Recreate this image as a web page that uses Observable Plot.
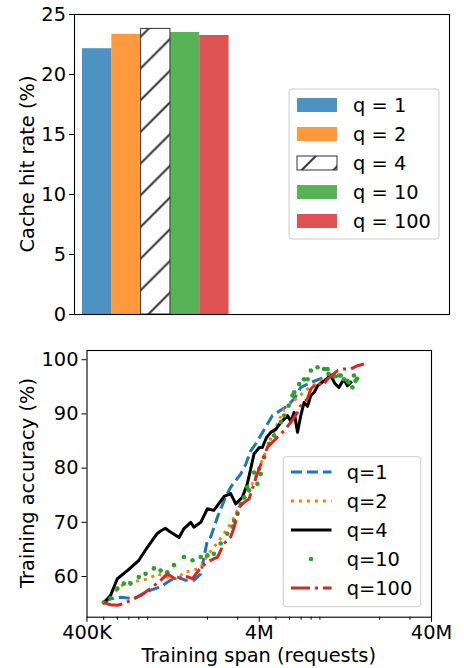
<!DOCTYPE html>
<html>
<head>
<meta charset="utf-8">
<script src="https://cdn.jsdelivr.net/npm/d3@7"></script>
<script src="https://cdn.jsdelivr.net/npm/@observablehq/plot@0.6"></script>
<style>
  body { margin: 0; background: #fff; }
  #wrap { width: 464px; height: 668px; position: relative; font-family: "DejaVu Sans", sans-serif; }
  #wrap svg { display: block; }
</style>
</head>
<body>
<div id="wrap"></div>
<script>
// ---------- Data: top chart (cache hit rate) ----------
const qLabels = ["q = 1", "q = 2", "q = 4", "q = 10", "q = 100"];
const hitRate = [22.15, 23.35, 23.8, 23.5, 23.25];
const yTicksTop = [0, 5, 10, 15, 20, 25];

// ---------- Data: bottom chart (training accuracy vs span, span in millions of requests) ----------
const lineLabels = ["q=1", "q=2", "q=4", "q=10", "q=100"];

const q1Span = [0.501, 0.548, 0.63, 0.748, 0.875, 0.936, 1.07, 1.22, 1.34, 1.50, 1.67, 1.83, 2.0, 2.09, 2.29, 2.50, 2.73, 3.12, 3.34, 3.57, 3.82, 4.77, 5.84, 6.38, 6.97, 7.97, 9.1, 10.4, 11.9];
const q1Acc  = [55.2, 55.9, 56.2, 55.9, 57.1, 57.5, 58.1, 59.3, 59.9, 59.3, 59.3, 60.5, 66.7, 67.3, 71.0, 74.0, 76.5, 78.9, 80.7, 83.2, 84.5, 89.7, 91.5, 92.8, 94.9, 95.8, 96.5, 97.2, 96.7];

const q2Span = [0.501, 0.548, 0.60, 0.655, 0.733, 0.82, 0.915, 1.02, 1.17, 1.34, 1.46, 1.64, 1.83, 2.0, 2.18, 2.50, 2.80, 2.99, 3.41, 3.73, 4.27, 4.66, 5.58, 7.62, 9.1, 11.1];
const q2Acc  = [55.2, 56.4, 57.6, 58.7, 59.0, 59.3, 59.6, 60.5, 59.9, 59.5, 60.8, 61.1, 61.7, 63.9, 65.4, 67.9, 70.3, 72.2, 75.3, 77.7, 82.3, 85.4, 90.9, 94.6, 96.1, 97.2];

const q4Span = [0.501, 0.548, 0.60, 0.686, 0.80, 0.896, 1.02, 1.07, 1.14, 1.22, 1.37, 1.46, 1.60, 1.67, 1.83, 2.0, 2.18, 2.50, 2.73, 2.92, 3.19, 3.41, 3.73, 4.0, 4.17, 4.40, 4.66, 5.0, 5.33, 5.84, 6.10, 6.38, 6.67, 6.97, 7.28, 7.62, 7.97, 8.35, 8.72, 9.52, 10.4, 11.0, 11.6, 12.4, 13.0, 13.6];
const q4Acc  = [55.2, 56.5, 59.6, 61.1, 63.0, 65.4, 67.9, 68.4, 68.9, 68.2, 67.2, 68.8, 70.0, 69.1, 70.0, 72.5, 72.2, 74.8, 75.3, 73.4, 74.6, 77.1, 82.6, 83.8, 83.8, 85.6, 86.6, 87.2, 88.4, 89.7, 88.6, 90.3, 86.6, 89.7, 92.1, 91.4, 93.4, 94.0, 95.2, 96.1, 97.1, 95.6, 94.9, 96.4, 95.2, 95.8];

const q10Span = [0.501, 0.548, 0.60, 0.655, 0.716, 0.80, 0.875, 0.978, 1.07, 1.17, 1.28, 1.46, 1.64, 1.83, 2.0, 2.18, 2.39, 2.61, 2.80, 2.86, 2.99, 3.12, 3.27, 3.41, 3.49, 3.73, 3.90, 4.0, 4.08, 4.27, 4.56, 4.88, 5.33, 5.58, 5.92, 6.24, 6.38, 6.82, 7.28, 7.62, 7.97, 8.72, 9.52, 9.97, 10.1, 10.9, 11.6, 11.9, 12.4, 13.0, 13.2, 13.9, 14.2, 14.5, 14.8];
const q10Acc  = [55.2, 56.0, 57.8, 58.7, 58.7, 59.9, 60.5, 61.5, 61.1, 60.8, 62.1, 63.6, 63.0, 63.6, 63.9, 64.2, 66.1, 67.9, 69.2, 70.3, 71.6, 73.4, 74.6, 76.5, 75.9, 79.2, 77.1, 79.9, 78.9, 82.0, 84.5, 86.0, 88.5, 89.7, 91.5, 93.4, 94.0, 95.5, 96.4, 96.4, 98.0, 98.6, 98.3, 98.3, 97.4, 96.9, 97.1, 97.1, 96.4, 96.1, 95.8, 94.9, 97.1, 96.1, 96.5];

const q100Span = [0.501, 0.548, 0.60, 0.655, 0.716, 0.82, 0.936, 1.07, 1.17, 1.25, 1.34, 1.46, 1.64, 1.83, 2.0, 2.29, 2.50, 2.73, 2.86, 3.06, 3.27, 3.49, 3.73, 3.90, 4.17, 4.46, 4.88, 5.58, 6.1, 6.67, 6.97, 7.62, 7.97, 8.72, 9.31, 9.97, 11.4, 12.4, 13.6, 14.9, 16.2];
const q100Acc  = [55.2, 54.8, 54.7, 55.0, 55.6, 56.5, 57.8, 59.3, 60.5, 59.9, 59.3, 60.2, 59.6, 61.7, 62.7, 63.6, 66.1, 67.3, 69.1, 72.8, 73.7, 74.3, 77.1, 79.0, 81.4, 83.8, 85.1, 86.9, 88.5, 90.3, 91.5, 92.8, 94.6, 95.8, 95.2, 96.4, 98.0, 98.3, 98.3, 98.9, 99.2];

const xMajorTicks = [4e5, 4e6, 4e7];
const xMajorLabels = ["400K", "4M", "40M"];
const xMinorTicks = [5e5, 6e5, 7e5, 8e5, 9e5, 2e6, 3e6, 5e6, 6e6, 7e6, 8e6, 9e6, 2e7, 3e7];
const yTicksBottom = [60, 70, 80, 90, 100];

// ---------- styling ----------
const FONT = "DejaVu Sans";
const FS = "19.4px";
const tab = ["#1f77b4", "#ff7f0e", "#000000", "#2ca02c", "#d62728"];
const HATCH_IDX = 2;

const wrap = document.getElementById("wrap");

// ---------- top chart ----------
const bars = qLabels.map((q, i) => ({ q, i, v: hitRate[i], color: tab[i] }));
const solidBars = bars.filter(d => d.i !== HATCH_IDX);
const hatchBars = bars.filter(d => d.i === HATCH_IDX);

const topPlot = Plot.plot({
  width: 464, height: 330,
  marginLeft: 74, marginRight: 15, marginTop: 14, marginBottom: 16,
  style: { fontFamily: FONT, fontSize: FS, color: "#000", background: "white", overflow: "visible" },
  x: { domain: [-0.273, 12.52], axis: null },
  y: { domain: [0, 25], axis: null },
  color: { type: "identity" },
  marks: [
    Plot.rect(solidBars, { x1: "i", x2: d => d.i + 1, y1: 0, y2: "v", fill: "color", fillOpacity: 0.8, inset: 0 }),
    Plot.rect(hatchBars, { x1: "i", x2: d => d.i + 1, y1: 0, y2: "v", fill: "url(#hatch)", stroke: "#333", strokeWidth: 1, inset: 0 }),
    Plot.axisY({ ticks: yTicksTop, tickSize: 5, tickPadding: 3.5, tickFormat: d3.format("d"), label: null }),
    Plot.frame({ stroke: "#000", strokeWidth: 1.1 })
  ]
});
wrap.appendChild(topPlot);

{
  const svg = d3.select(topPlot);
  const defs = svg.insert("defs", ":first-child");
  const pat = defs.append("pattern").attr("id", "hatch").attr("patternUnits", "userSpaceOnUse")
    .attr("width", 31.7).attr("height", 31.7);
  pat.append("rect").attr("width", 31.7).attr("height", 31.7).attr("fill", "white");
  pat.append("path").attr("d", "M-3,21.8L21.8,-3M15.8,34.7L34.7,15.8").attr("stroke", "#333").attr("stroke-width", 2);

  const pat2 = defs.append("pattern").attr("id", "hatchLegend").attr("patternUnits", "userSpaceOnUse")
    .attr("x", 297).attr("y", 156).attr("width", 31.7).attr("height", 31.7);
  pat2.append("rect").attr("width", 31.7).attr("height", 31.7).attr("fill", "white");
  pat2.append("path").attr("d", "M-3,21.8L21.8,-3M15.8,34.7L34.7,15.8").attr("stroke", "#333").attr("stroke-width", 2);

  // y-axis title
  svg.append("text").attr("transform", "translate(33.5,164) rotate(-90)")
    .attr("text-anchor", "middle").attr("font-family", FONT).attr("font-size", FS)
    .attr("fill", "#000").text("Cache hit rate (%)");

  // legend
  const lg = svg.append("g").attr("text-anchor", "start");
  lg.append("rect").attr("x", 289).attr("y", 89).attr("width", 150).attr("height", 150)
    .attr("rx", 3).attr("fill", "white").attr("fill-opacity", 0.8).attr("stroke", "#cccccc").attr("stroke-width", 1);
  const rowsY = [105, 134, 163, 192, 221];
  qLabels.forEach((q, i) => {
    const cy = rowsY[i];
    if (i === HATCH_IDX) {
      lg.append("rect").attr("x", 297).attr("y", cy - 7).attr("width", 40).attr("height", 14)
        .attr("fill", "url(#hatchLegend)").attr("stroke", "#333").attr("stroke-width", 1);
    } else {
      lg.append("rect").attr("x", 297).attr("y", cy - 7).attr("width", 40).attr("height", 14)
        .attr("fill", tab[i]).attr("fill-opacity", 0.8);
    }
    lg.append("text").attr("x", 353).attr("y", cy + 7).attr("text-anchor", "start")
      .attr("font-family", FONT).attr("font-size", FS).attr("fill", "#000").text(q);
  });
}

// ---------- bottom chart ----------
const toRows = (span, acc) => span.map((s, i) => ({ span: s * 1e6, acc: acc[i] }));
const s1 = toRows(q1Span, q1Acc);
const s2 = toRows(q2Span, q2Acc);
const s4 = toRows(q4Span, q4Acc);
const s10 = toRows(q10Span, q10Acc);
const s100 = toRows(q100Span, q100Acc);

const dashes = ["11,5", "3,5", null, null, "19,5,3,5"];
const lineW = 3;

const botPlot = Plot.plot({
  width: 464, height: 338,
  marginLeft: 86.5, marginRight: 33, marginTop: 20, marginBottom: 51.3,
  style: { fontFamily: FONT, fontSize: FS, color: "#000", background: "white", overflow: "visible" },
  x: { type: "log", domain: [4e5, 4e7], axis: null },
  y: { domain: [52.5, 101.7], axis: null },
  marks: [
    Plot.axisX({ ticks: xMinorTicks, tickSize: 3, tickFormat: () => "", label: null }),
    Plot.axisX({ ticks: xMajorTicks, tickSize: 5, tickPadding: 3.5, tickFormat: d => xMajorLabels[xMajorTicks.indexOf(d)], label: null }),
    Plot.axisY({ ticks: yTicksBottom, tickSize: 5, tickPadding: 3.5, tickFormat: d3.format("d"), label: null }),
    Plot.line(s1, { x: "span", y: "acc", stroke: tab[0], strokeWidth: lineW, strokeDasharray: dashes[0], strokeLinejoin: "round", strokeLinecap: "butt" }),
    Plot.line(s2, { x: "span", y: "acc", stroke: tab[1], strokeWidth: lineW, strokeDasharray: dashes[1], strokeLinejoin: "round", strokeLinecap: "butt" }),
    Plot.line(s4, { x: "span", y: "acc", stroke: tab[2], strokeWidth: lineW, strokeLinejoin: "round", strokeLinecap: "square" }),
    Plot.dot(s10, { x: "span", y: "acc", fill: tab[3], r: 2.3, stroke: null }),
    Plot.line(s100, { x: "span", y: "acc", stroke: tab[4], strokeWidth: lineW, strokeDasharray: dashes[4], strokeLinejoin: "round", strokeLinecap: "butt" }),
    Plot.frame({ stroke: "#000", strokeWidth: 1.1 })
  ]
});
wrap.appendChild(botPlot);

{
  const svg = d3.select(botPlot);
  svg.append("text").attr("transform", "translate(33.5,153) rotate(-90)")
    .attr("text-anchor", "middle").attr("font-family", FONT).attr("font-size", FS)
    .attr("fill", "#000").text("Training accuracy (%)");
  svg.append("text").attr("x", 258.8).attr("y", 332)
    .attr("text-anchor", "middle").attr("font-family", FONT).attr("font-size", FS)
    .attr("fill", "#000").text("Training span (requests)");

  const lg = svg.append("g").attr("text-anchor", "start");
  lg.append("rect").attr("x", 283.3).attr("y", 126.7).attr("width", 137.4).attr("height", 150)
    .attr("rx", 3).attr("fill", "white").attr("fill-opacity", 0.8).attr("stroke", "#cccccc").attr("stroke-width", 1);
  const rowsY = [142, 171, 200, 229, 258];
  lineLabels.forEach((q, i) => {
    const cy = rowsY[i];
    if (i === 3) {
      lg.append("circle").attr("cx", 311).attr("cy", cy).attr("r", 2.3).attr("fill", tab[3]);
    } else {
      const ln = lg.append("line").attr("x1", 291).attr("x2", 331.5).attr("y1", cy).attr("y2", cy)
        .attr("stroke", tab[i]).attr("stroke-width", lineW);
      if (dashes[i]) ln.attr("stroke-dasharray", dashes[i]);
    }
    lg.append("text").attr("x", 346.7).attr("y", cy + 7).attr("text-anchor", "start")
      .attr("font-family", FONT).attr("font-size", FS).attr("fill", "#000").text(q);
  });
}
</script>
</body>
</html>
